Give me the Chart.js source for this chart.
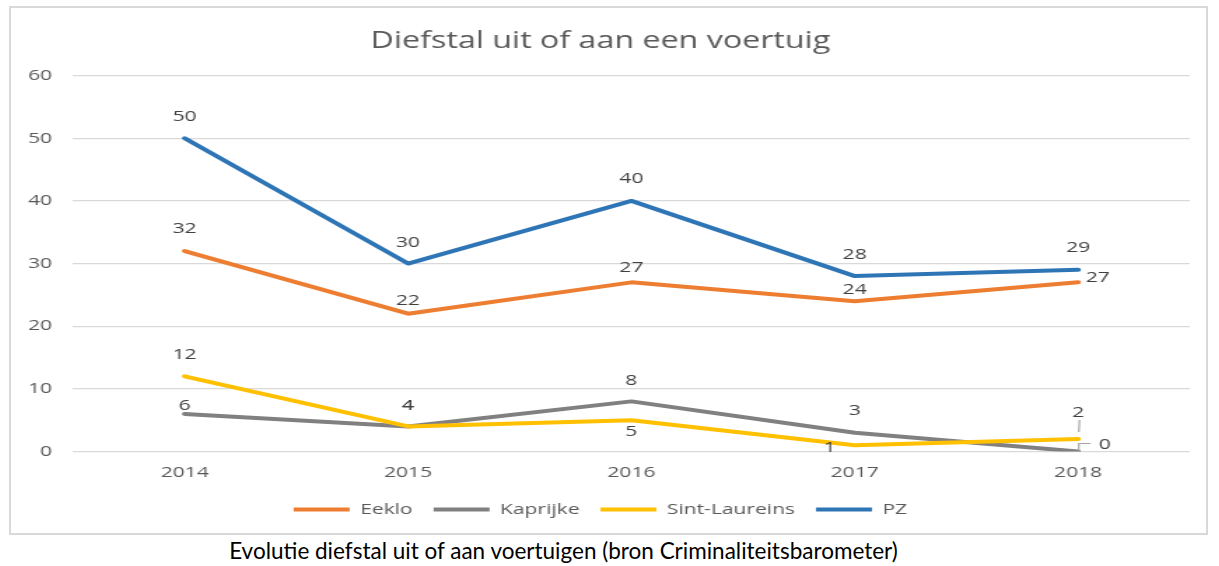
<!DOCTYPE html>
<html>
<head>
<meta charset="utf-8">
<script src="https://cdn.jsdelivr.net/npm/chart.js@4.4.1/dist/chart.umd.min.js"></script>
<style>
  body { margin: 0; background: #fff; width: 1219px; height: 566px; overflow: hidden; position: relative; }
  #frame { position: absolute; left: 9px; top: 6px; width: 1195px; height: 525px; border: 2px solid #d9d9d9; overflow: hidden; }
  #wrap { position: absolute; left: 0; top: 0; width: 854px; height: 525px; transform: scaleX(1.4); transform-origin: 0 0; }
  #caption { position: absolute; left: 0; width: 1127px; top: 537px; text-align: center; font-family: Lato, sans-serif; font-size: 22.5px; color: #000; }
</style>
</head>
<body>
<div id="frame"><div id="wrap"><canvas id="chart"></canvas></div></div>
<div id="caption">Evolutie diefstal uit of aan voertuigen (bron Criminaliteitsbarometer)</div>
<script>
const years = ['2014', '2015', '2016', '2017', '2018'];
const eeklo = [32, 22, 27, 24, 27];
const kaprijke = [6, 4, 8, 3, 0];
const sintLaureins = [12, 4, 5, 1, 2];
const pz = [50, 30, 40, 28, 29];

// label offsets (x, y) from the point, in canvas units
const labelOffsets = {
    'Eeklo': [[0, -22], [0, -13], [0, -15], [0, -11], [14, -5]],
    'Kaprijke': [[0, -8], [0, -21], [0, -21], [0, -22], [19, -7]],
    'Sint-Laureins': [[0, -22], [0, -21], [0, 12], [-18, 2], [0, -26]],
    'PZ': [[0, -22], [0, -21], [0, -22], [0, -21], [0, -22]]
};

const FONT = 'Open Sans';

const dataLabels = {
    id: 'dataLabels',
    afterDatasetsDraw(chart) {
        const ctx = chart.ctx;
        ctx.save();
        ctx.font = '15px "' + FONT + '"';
        ctx.fillStyle = '#404040';
        ctx.textAlign = 'center';
        ctx.textBaseline = 'middle';
        chart.data.datasets.forEach((ds, i) => {
            const meta = chart.getDatasetMeta(i);
            meta.data.forEach((pt, j) => {
                const off = labelOffsets[ds.label][j];
                ctx.fillText(String(ds.data[j]), pt.x + off[0], pt.y + off[1]);
            });
        });
        // leader lines for the crowded 2018 labels
        const kp = chart.getDatasetMeta(1).data[4];
        const sl = chart.getDatasetMeta(2).data[4];
        ctx.strokeStyle = '#a6a6a6';
        ctx.lineWidth = 1.2;
        ctx.beginPath();
        ctx.moveTo(sl.x + 1, sl.y - 19);
        ctx.lineTo(sl.x + 0.5, sl.y - 7);
        ctx.moveTo(kp.x + 0.5, kp.y - 1);
        ctx.lineTo(kp.x + 0.5, kp.y - 8);
        ctx.lineTo(kp.x + 9, kp.y - 8);
        ctx.stroke();
        ctx.restore();
    }
};

function series(label, data, color, order) {
    return {
        label: label,
        data: data,
        borderColor: color,
        backgroundColor: color,
        borderWidth: 4,
        pointRadius: 0,
        tension: 0,
        borderCapStyle: 'round',
        borderJoinStyle: 'round',
        order: order
    };
}

new Chart(document.getElementById('chart').getContext('2d'), {
    type: 'line',
    data: {
        labels: years,
        datasets: [
            series('Eeklo', eeklo, '#ED7D31', 4),
            series('Kaprijke', kaprijke, '#808080', 3),
            series('Sint-Laureins', sintLaureins, '#FFC000', 2),
            series('PZ', pz, '#2E75B6', 1)
        ]
    },
    options: {
        responsive: true,
        maintainAspectRatio: false,
        animation: false,
        layout: { padding: { left: 0, right: 12, top: 0, bottom: 6 } },
        plugins: {
            tooltip: { enabled: false },
            title: {
                display: true,
                text: 'Diefstal uit of aan een voertuig',
                color: '#595959',
                font: { family: FONT, size: 23, weight: 'normal', lineHeight: 1.2 },
                padding: { top: 20, bottom: 20 }
            },
            legend: {
                position: 'bottom',
                labels: {
                    color: '#595959',
                    font: { family: FONT, size: 15 },
                    boxWidth: 40,
                    boxHeight: 4,
                    padding: 15,
                    sort: (a, b) => a.datasetIndex - b.datasetIndex,
                    generateLabels(chart) {
                        return Chart.defaults.plugins.legend.labels.generateLabels(chart).map(l => {
                            l.lineWidth = 0;
                            l.strokeStyle = 'rgba(0,0,0,0)';
                            return l;
                        });
                    }
                }
            }
        },
        scales: {
            x: {
                offset: true,
                grid: { display: false },
                border: { display: false },
                ticks: { color: '#595959', font: { family: FONT, size: 15 }, padding: 4 },
                afterFit(scale) { scale.height = 35.5; }
            },
            y: {
                min: 0,
                max: 60,
                grid: { color: '#d9d9d9', lineWidth: 1.3, drawTicks: false },
                border: { display: false },
                ticks: { stepSize: 10, color: '#595959', font: { family: FONT, size: 15 }, padding: 15 },
                afterFit(scale) { scale.width = 44.3; }
            }
        }
    },
    plugins: [dataLabels]
});
</script>
</body>
</html>
